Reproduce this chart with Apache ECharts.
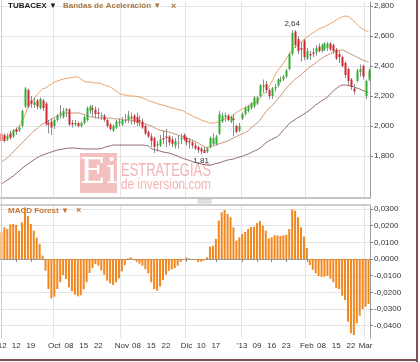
<!DOCTYPE html>
<html><head><meta charset="utf-8">
<script src="https://cdn.jsdelivr.net/npm/echarts@6/dist/echarts.min.js"></script>
<style>html,body{margin:0;padding:0;background:#fff}#c{width:420px;height:362px}</style>
</head><body><div id="c"></div>
<script>
const startDate = '2012-09-05';
const holidays = ['2012-12-25','2012-12-26','2013-01-01'];
const opens = [1.95,1.94,1.91,1.95,1.93,1.98,1.97,2.00,2.13,2.24,
2.17,2.14,2.17,2.12,2.17,2.15,2.02,2.03,2.00,2.04,
2.08,2.06,2.10,2.11,2.02,2.01,2.02,2.00,2.02,2.04,
2.10,2.12,2.11,2.09,2.07,2.07,2.04,2.01,1.97,1.99,
2.02,2.01,2.04,2.04,2.06,2.07,2.06,2.04,2.03,2.00,
1.96,1.93,1.92,1.87,1.87,1.92,1.93,1.93,1.91,1.87,
1.89,1.91,1.94,1.92,1.90,1.89,1.87,1.86,1.85,1.84,
1.83,1.86,1.88,1.88,1.95,2.03,2.06,2.07,2.03,2.05,
2.00,1.97,2.05,2.08,2.10,2.12,2.13,2.15,2.20,2.26,
2.28,2.24,2.20,2.25,2.27,2.30,2.31,2.33,2.38,2.48,
2.63,2.58,2.52,2.57,2.45,2.48,2.49,2.49,2.53,2.50,
2.51,2.52,2.55,2.54,2.51,2.48,2.46,2.42,2.38,2.31,
2.25,2.30,2.36,2.40,2.20,2.31];
const closes = [1.90,1.90,1.93,1.92,1.97,1.96,1.99,2.10,2.25,2.13,
2.15,2.16,2.13,2.18,2.12,2.01,2.01,1.99,2.04,2.07,
2.09,2.10,2.11,2.01,2.01,2.02,2.00,2.02,2.06,2.12,
2.13,2.11,2.08,2.08,2.07,2.04,2.00,1.98,2.00,2.03,
2.03,2.04,2.04,2.07,2.05,2.03,2.02,2.03,1.99,1.95,
1.93,1.90,1.86,1.88,1.91,1.91,1.92,1.89,1.88,1.90,
1.89,1.92,1.91,1.89,1.89,1.87,1.85,1.84,1.83,1.82,
1.85,1.92,1.92,1.93,2.08,2.07,2.07,2.04,2.06,2.04,
1.96,2.00,2.08,2.12,2.13,2.15,2.19,2.19,2.27,2.27,
2.24,2.20,2.25,2.26,2.31,2.31,2.33,2.37,2.48,2.62,
2.54,2.50,2.51,2.46,2.50,2.47,2.48,2.52,2.50,2.54,
2.55,2.55,2.51,2.50,2.45,2.46,2.40,2.34,2.30,2.26,
2.23,2.37,2.38,2.33,2.30,2.37];
const lows = [1.88,1.89,1.90,1.91,1.92,1.94,1.96,1.99,2.12,2.12,
2.12,2.12,2.11,2.11,2.10,2.00,1.95,1.94,1.98,2.03,
2.05,2.05,2.06,2.00,1.99,2.00,1.99,1.99,2.01,2.03,
2.08,2.06,2.05,2.05,2.04,2.03,1.99,1.97,1.96,1.98,
2.00,2.00,2.02,2.02,2.01,2.01,2.00,2.00,1.98,1.94,
1.92,1.86,1.82,1.83,1.86,1.88,1.86,1.87,1.86,1.85,
1.85,1.88,1.90,1.87,1.85,1.85,1.84,1.82,1.81,1.82,
1.82,1.85,1.87,1.87,1.94,2.02,2.03,2.03,2.02,1.93,
1.95,1.96,2.04,2.07,2.09,2.11,2.12,2.14,2.19,2.22,
2.22,2.18,2.18,2.23,2.26,2.29,2.30,2.32,2.37,2.47,
2.52,2.48,2.43,2.44,2.44,2.44,2.46,2.47,2.49,2.49,
2.50,2.50,2.50,2.48,2.44,2.42,2.39,2.32,2.27,2.24,
2.21,2.29,2.33,2.31,2.18,2.30];
const highs = [1.96,1.95,1.95,1.97,1.98,1.99,2.00,2.11,2.26,2.25,
2.20,2.19,2.18,2.19,2.18,2.16,2.04,2.05,2.05,2.08,
2.14,2.12,2.12,2.12,2.04,2.04,2.03,2.03,2.07,2.13,
2.14,2.14,2.13,2.12,2.09,2.08,2.05,2.02,2.01,2.04,
2.05,2.06,2.08,2.10,2.09,2.08,2.09,2.07,2.05,2.01,
1.97,1.95,1.93,1.90,1.94,1.97,1.98,1.94,1.93,1.92,
1.94,1.95,1.95,1.93,1.92,1.91,1.89,1.87,1.86,1.86,
1.86,1.93,1.95,1.94,2.10,2.09,2.09,2.08,2.07,2.08,
2.01,2.02,2.09,2.13,2.14,2.16,2.20,2.20,2.28,2.31,
2.30,2.25,2.26,2.28,2.32,2.33,2.34,2.38,2.49,2.64,
2.64,2.60,2.56,2.58,2.52,2.50,2.52,2.54,2.55,2.55,
2.56,2.56,2.56,2.55,2.52,2.50,2.47,2.43,2.39,2.32,
2.28,2.38,2.41,2.41,2.31,2.38];
const upperBand = [1.913,1.92,1.93,1.94,1.96,1.98,2.00,2.033,2.073,2.127,
2.153,2.18,2.207,2.227,2.247,2.253,2.267,2.28,2.293,2.30,
2.307,2.313,2.317,2.32,2.323,2.327,2.327,2.313,2.30,2.293,
2.293,2.29,2.287,2.287,2.283,2.273,2.267,2.26,2.247,2.233,
2.22,2.21,2.207,2.203,2.20,2.20,2.197,2.193,2.187,2.18,
2.17,2.163,2.157,2.15,2.143,2.14,2.133,2.127,2.12,2.117,
2.11,2.107,2.10,2.087,2.077,2.067,2.057,2.05,2.04,2.033,
2.027,2.02,2.02,2.023,2.027,2.037,2.047,2.053,2.06,2.073,
2.09,2.103,2.113,2.123,2.133,2.143,2.153,2.16,2.187,2.207,
2.227,2.26,2.293,2.333,2.367,2.393,2.42,2.447,2.48,2.507,
2.527,2.54,2.56,2.577,2.593,2.607,2.62,2.633,2.647,2.653,
2.663,2.673,2.683,2.693,2.707,2.717,2.727,2.733,2.73,2.717,
2.70,2.68,2.66,2.647,2.637,2.63];
const middleBand = [1.76,1.773,1.787,1.807,1.827,1.847,1.867,1.887,1.907,1.927,
1.947,1.967,1.98,2.00,2.013,2.023,2.033,2.047,2.057,2.067,
2.073,2.08,2.087,2.087,2.087,2.087,2.087,2.083,2.077,2.07,
2.063,2.06,2.057,2.053,2.053,2.053,2.053,2.053,2.05,2.047,
2.047,2.043,2.04,2.04,2.037,2.033,2.03,2.023,2.017,2.013,
2.007,2.00,1.99,1.98,1.973,1.967,1.963,1.96,1.953,1.947,
1.94,1.933,1.927,1.92,1.913,1.903,1.897,1.887,1.873,1.863,
1.857,1.86,1.867,1.873,1.88,1.887,1.893,1.90,1.91,1.92,
1.93,1.94,1.947,1.957,1.967,1.987,2.003,2.02,2.037,2.067,
2.093,2.117,2.133,2.153,2.177,2.20,2.227,2.253,2.273,2.293,
2.313,2.327,2.34,2.36,2.377,2.393,2.407,2.42,2.437,2.45,
2.463,2.473,2.483,2.493,2.50,2.503,2.507,2.50,2.49,2.48,
2.47,2.46,2.45,2.44,2.433,2.427];
const lowerBand = [1.613,1.627,1.64,1.653,1.667,1.683,1.70,1.717,1.733,1.747,
1.76,1.773,1.787,1.797,1.807,1.813,1.82,1.827,1.833,1.84,
1.843,1.847,1.85,1.853,1.853,1.853,1.85,1.85,1.847,1.847,
1.847,1.847,1.847,1.847,1.85,1.857,1.863,1.867,1.873,1.873,
1.873,1.873,1.873,1.873,1.873,1.873,1.873,1.873,1.873,1.87,
1.867,1.85,1.843,1.84,1.833,1.827,1.823,1.82,1.813,1.807,
1.80,1.79,1.783,1.777,1.77,1.763,1.757,1.753,1.747,1.743,
1.74,1.74,1.743,1.75,1.753,1.76,1.767,1.773,1.777,1.78,
1.787,1.793,1.797,1.807,1.813,1.823,1.833,1.84,1.853,1.87,
1.887,1.90,1.91,1.92,1.93,1.95,1.973,1.993,2.017,2.03,
2.043,2.057,2.067,2.08,2.093,2.107,2.123,2.14,2.153,2.167,
2.18,2.193,2.213,2.233,2.25,2.263,2.273,2.273,2.27,2.267,
2.26,2.253,2.247,2.237,2.23,2.223];
const macdForest = [0.016,0.019,0.018,0.0208,0.021,0.0204,0.017,0.022,0.031,0.0258,
0.021,0.017,0.0128,0.009,0.002,-0.007,-0.018,-0.0236,-0.0226,-0.018,
-0.014,-0.0096,-0.012,-0.017,-0.0193,-0.0213,-0.0224,-0.0218,-0.0182,-0.014,
-0.0084,-0.0054,-0.003,-0.004,-0.0068,-0.0095,-0.013,-0.0146,-0.0156,-0.014,
-0.0116,-0.0075,-0.0037,0.0004,0.001,-0.0007,-0.0014,-0.0028,-0.004,-0.0062,
-0.0087,-0.014,-0.018,-0.019,-0.0165,-0.0126,-0.0094,-0.007,-0.0062,-0.0055,
-0.004,-0.0018,-0.0002,0.0009,0.0003,-0.0002,-0.0006,-0.0018,-0.0014,-0.0008,
0.001,0.0074,0.008,0.012,0.023,0.028,0.0294,0.027,0.025,0.019,
0.011,0.013,0.015,0.0162,0.018,0.0192,0.0194,0.0215,0.0228,0.020,
0.017,0.0124,0.013,0.0142,0.0142,0.0138,0.0142,0.0146,0.018,0.0298,
0.029,0.025,0.019,0.0135,0.0065,-0.0036,-0.0065,-0.0086,-0.0102,-0.0107,
-0.0106,-0.0102,-0.0118,-0.014,-0.0175,-0.018,-0.022,-0.0246,-0.0376,-0.0446,
-0.0456,-0.0386,-0.034,-0.030,-0.0286,-0.027];
const xLabelDates = ['2012-09-05','2012-09-12','2012-09-19','2012-10-01','2012-10-08','2012-10-15','2012-10-22',
'2012-11-01','2012-11-08','2012-11-15','2012-11-22','2012-12-03','2012-12-10','2012-12-17',
'2013-01-02','2013-01-09','2013-01-16','2013-01-23','2013-02-01','2013-02-08','2013-02-15','2013-02-22','2013-03-01'];
const xLabelTexts = ["'12","12","19","Oct","08","15","22","Nov","08","15","22","Dic","10","17","'13","09","16","23","Feb","08","15","22","Mar"];
const monthStartDates = ['2012-10-01','2012-11-01','2012-12-03','2013-01-02','2013-02-01','2013-03-01'];
const priceTicks = [1.8,2.0,2.2,2.4,2.6,2.8];
const macdTicks = [-0.04,-0.03,-0.02,-0.01,0,0.01,0.02,0.03];

// trading-day categories
const dates = [];
(function(){
  const d = new Date(startDate + 'T00:00:00Z');
  while (dates.length < closes.length) {
    const wd = d.getUTCDay(); const s = d.toISOString().slice(0,10);
    if (wd !== 0 && wd !== 6 && holidays.indexOf(s) < 0) dates.push(s);
    d.setUTCDate(d.getUTCDate() + 1);
  }
})();
const labelMap = new Map(xLabelDates.map((d,i)=>[d, xLabelTexts[i]]));
const monthSet = new Set(monthStartDates);
const candleData = opens.map((o,i)=>[i, o, closes[i], lows[i], highs[i]]);
let maxI = 0, minI = 0;
highs.forEach((h,i)=>{ if (h > highs[maxI]) maxI = i; });
lows.forEach((l,i)=>{ if (l < lows[minI]) minI = i; });
const fmtPrice = v => v.toFixed(3).replace('.', ',');
const fmtMacd = v => v.toFixed(4).replace('.', ',');
const FONT = 'Liberation Sans';

function renderCandle(params, api) {
  const i = api.value(0), o = api.value(1), c = api.value(2), l = api.value(3), h = api.value(4);
  const pO = api.coord([i, o]), pC = api.coord([i, c]), pL = api.coord([i, l]), pH = api.coord([i, h]);
  const x = Math.round(pO[0]);
  const top = Math.min(pO[1], pC[1]), bot = Math.max(pO[1], pC[1]);
  const col = c > o ? '#2fae2f' : (c < o ? '#d0282e' : '#8a8a8a');
  return { type: 'group', children: [
    { type: 'line', shape: { x1: x + 0.5, y1: pH[1], x2: x + 0.5, y2: pL[1] }, style: { stroke: '#8c8c8c', lineWidth: 1 } },
    { type: 'rect', shape: { x: x - 0.5, y: top, width: 2, height: Math.max(1, bot - top) }, style: { fill: col } }
  ]};
}

const chart = echarts.init(document.getElementById('c'), null, { renderer: 'canvas' });
const gridLineColor = '#e4e4e4';
chart.setOption({
  animation: false,
  backgroundColor: '#fff',
  grid: [
    { left: 0, right: 50, top: 2, height: 196, containLabel: false, outerBoundsMode: 'none' },
    { left: 0, right: 50, top: 205, height: 133, containLabel: false, outerBoundsMode: 'none' }
  ],
  xAxis: [
    { type: 'category', gridIndex: 0, data: dates, boundaryGap: true,
      axisLine: { show: true, lineStyle: { color: '#c4c4c4', width: 2 } },
      axisTick: { show: false }, axisLabel: { show: false },
      splitLine: { show: true, interval: (i, v) => monthSet.has(v), lineStyle: { color: gridLineColor } } },
    { type: 'category', gridIndex: 1, data: dates, boundaryGap: true,
      axisLine: { show: true, lineStyle: { color: '#9a9a9a' } },
      axisTick: { show: true, alignWithLabel: true, interval: (i, v) => labelMap.has(v), length: 3, lineStyle: { color: '#888' } },
      axisLabel: { interval: (i, v) => labelMap.has(v), formatter: v => labelMap.get(v), fontSize: 8, color: '#333', margin: 4, fontFamily: FONT, hideOverlap: false },
      splitLine: { show: true, interval: (i, v) => monthSet.has(v), lineStyle: { color: gridLineColor } } }
  ],
  yAxis: [
    { type: 'value', gridIndex: 0, position: 'right', min: 1.52, max: 2.8267,
      axisLine: { show: true, lineStyle: { color: '#9a9a9a' } },
      axisTick: { show: true, length: 3, customValues: priceTicks, lineStyle: { color: '#888' } },
      axisLabel: { customValues: priceTicks, formatter: fmtPrice, fontSize: 8, color: '#333', margin: 4, fontFamily: FONT },
      splitLine: { show: true, lineStyle: { color: gridLineColor } } },
    { type: 'value', gridIndex: 1, position: 'right', min: -0.0474, max: 0.0324,
      axisLine: { show: true, lineStyle: { color: '#9a9a9a' } },
      axisTick: { show: true, length: 3, customValues: macdTicks, lineStyle: { color: '#888' } },
      axisLabel: { customValues: macdTicks, formatter: fmtMacd, fontSize: 8, color: '#333', margin: 4, fontFamily: FONT },
      splitLine: { show: true, lineStyle: { color: gridLineColor } } }
  ],
  series: [
    { name: 'upper', type: 'line', xAxisIndex: 0, yAxisIndex: 0, data: upperBand, showSymbol: false, smooth: 0.3,
      lineStyle: { color: '#e8a266', width: 1 }, z: 3 },
    { name: 'middle', type: 'line', xAxisIndex: 0, yAxisIndex: 0, data: middleBand, showSymbol: false, smooth: 0.3,
      lineStyle: { color: '#c99475', width: 1 }, z: 3 },
    { name: 'lower', type: 'line', xAxisIndex: 0, yAxisIndex: 0, data: lowerBand, showSymbol: false, smooth: 0.3,
      lineStyle: { color: '#946670', width: 1 }, z: 3 },
    { name: 'TUBACEX', type: 'custom', xAxisIndex: 0, yAxisIndex: 0, data: candleData,
      encode: { x: 0, y: [1, 2, 3, 4] }, renderItem: renderCandle, z: 4,
      markPoint: { symbol: 'circle', symbolSize: 0, silent: true,
        label: { show: true, fontSize: 8, color: '#333', fontFamily: FONT },
        data: [
          { coord: [maxI, highs[maxI]], value: highs[maxI], label: { position: 'top', distance: 2, formatter: p => p.value.toFixed(2).replace('.', ',') } },
          { coord: [minI, lows[minI]], value: lows[minI], label: { position: 'bottom', distance: 2, formatter: p => p.value.toFixed(2).replace('.', ',') } }
        ] } },
    { name: 'MACD Forest', type: 'bar', xAxisIndex: 1, yAxisIndex: 1, data: macdForest, barWidth: 2,
      itemStyle: { color: '#f0871f' }, z: 3 }
  ],
  graphic: { elements: [
    // watermark
    { type: 'rect', z: 1, shape: { x: 80, y: 153, width: 37, height: 40 }, style: { fill: '#f3c0c0' } },
    { type: 'text', z: 1, x: 98.5, y: 174, style: { text: 'Ei', font: '36px "DejaVu Serif"', fill: '#fff', textAlign: 'center', textVerticalAlign: 'middle' } },
    { type: 'text', z: 1, x: 121, y: 162, scaleX: 0.72, style: { text: 'ESTRATEGIAS', font: '18px "Liberation Sans"', fill: '#f0b4b4', textVerticalAlign: 'top' } },
    { type: 'text', z: 1, x: 121, y: 178, scaleX: 0.85, style: { text: 'de inversion.com', font: '14px "Liberation Sans"', fill: '#f0b4b4', textVerticalAlign: 'top' } },
    // titles
    { type: 'text', z: 10, x: 8, y: 2, style: { text: 'TUBACEX \u25BC', font: 'bold 8px "Liberation Sans"', fill: '#1a1a1a' } },
    { type: 'text', z: 10, x: 63, y: 2, style: { text: 'Bandas de Aceleraci\u00f3n \u25BC', font: 'bold 8px "Liberation Sans"', fill: '#a8783f' } },
    { type: 'text', z: 10, x: 171, y: 2, style: { text: '\u00d7', font: 'bold 9px "Liberation Sans"', fill: '#a8783f' } },
    { type: 'text', z: 1, x: 8, y: 207, style: { text: 'MACD Forest \u25BC', font: 'bold 8px "Liberation Sans"', fill: '#c8742f' } },
    { type: 'text', z: 1, x: 76, y: 206, style: { text: '\u00d7', font: 'bold 9px "Liberation Sans"', fill: '#c8742f' } },
    // frames
    { type: 'rect', z: 5, shape: { x: 1, y: 0, width: 1, height: 338 }, style: { fill: '#cfcfcf' } },
    { type: 'rect', z: 5, shape: { x: 0, y: 204, width: 371, height: 2 }, style: { fill: '#cdcdcd' } },
    { type: 'rect', z: 5, shape: { x: 198, y: 199.5, width: 13, height: 3.5 }, style: { fill: '#e2e2e2', stroke: '#b8b8b8', lineWidth: 0.5 } },
    { type: 'rect', z: 5, shape: { x: 416, y: 0, width: 2, height: 362 }, style: { fill: '#7e5252' } },
    { type: 'rect', z: 5, shape: { x: 0, y: 359, width: 418, height: 2 }, style: { fill: '#7e5252' } }
  ] }
});
</script>
</body></html>
